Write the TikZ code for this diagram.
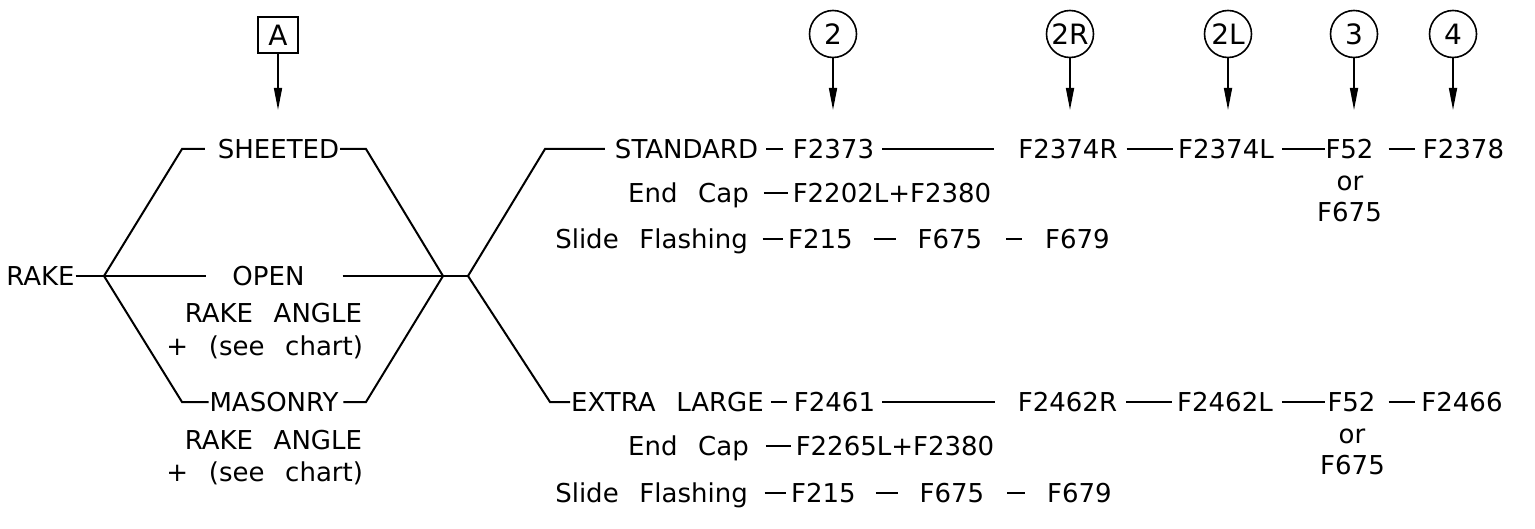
\documentclass[tikz,border=0pt]{standalone}
\usepackage{fontspec}
\setmainfont[WordSpace=2.5]{DejaVu Sans}
\usetikzlibrary{arrows.meta}
\begin{document}
\begin{tikzpicture}[x=0.5pt,y=-0.5pt,
  every path/.style={line width=1pt},
  txt/.style={inner sep=0pt,outer sep=0pt,text height=9.5pt,text depth=0pt,font=\fontsize{13}{15}\selectfont},
  callout/.style={draw,circle,line width=0.8pt,minimum size=23.5pt,inner sep=0pt,font=\fontsize{14}{16}\selectfont},
  boxcall/.style={draw,rectangle,line width=0.8pt,minimum width=20pt,minimum height=18pt,inner sep=0pt,font=\fontsize{14}{16}\selectfont},
  arr/.style={-{Triangle[length=11pt,width=4pt]},line width=0.8pt},
  g/.style 2 args={shorten <=#1pt,shorten >=#2pt}]
\useasboundingbox (0,0) rectangle (1535,529);

% callouts
\node[boxcall] (bA) at (278,35) {A};
\node[callout] (c2) at (833,34) {2};
\node[callout] (c2r) at (1070,34) {2R};
\node[callout] (c2l) at (1228,34) {2L};
\node[callout] (c3) at (1354,34) {3};
\node[callout] (c4) at (1453,34) {4};
\coordinate (tA) at (278,110);
\coordinate (t2) at (833,110);
\coordinate (t2r) at (1070,110);
\coordinate (t2l) at (1228,110);
\coordinate (t3) at (1354,110);
\coordinate (t4) at (1453,110);
\draw[arr] (bA) -- (tA);
\draw[arr] (c2) -- (t2);
\draw[arr] (c2r) -- (t2r);
\draw[arr] (c2l) -- (t2l);
\draw[arr] (c3) -- (t3);
\draw[arr] (c4) -- (t4);

% left hexagon
\coordinate (L) at (104,276);
\coordinate (TL) at (182,149);
\coordinate (BL) at (182,402);
\coordinate (TR) at (366,149);
\coordinate (BR) at (366,402);
\coordinate (R) at (443,276);
\coordinate (R2) at (468,276);
\coordinate (ST) at (545,149);
\coordinate (SB) at (550,402);

\node[txt] (rake) at (40.5,276) {RAKE};
\node[txt] (sheeted) at (278.5,149) {SHEETED};
\node[txt] (open) at (268.5,276) {OPEN};
\node[txt,anchor=east] (ra1) at (362,313) {RAKE ANGLE};
\node[txt,anchor=east] (sc1) at (363,346) {+ (see chart)};
\node[txt] (masonry) at (274,402) {MASONRY};
\node[txt,anchor=east] (ra2) at (362,440) {RAKE ANGLE};
\node[txt,anchor=east] (sc2) at (363,472) {+ (see chart)};

\draw[g={0.5}{0}] (rake.east) -- (L);
\draw[g={0}{6.5}] (L) -- (TL) -- (sheeted.west);
\draw[g={0.5}{0}] (sheeted.east) -- (TR) -- (R);
\draw[g={0}{13}] (L) -- (open.west);
\draw[g={19}{0}] (open.east) -- (R);
\draw[g={0}{0.5}] (L) -- (BL) -- (masonry.west);
\draw[g={2.5}{0}] (masonry.east) -- (BR) -- (R);
\draw (R) -- (R2);

% standard branch
\node[txt] (standard) at (686.5,149) {STANDARD};
\node[txt] (f2373) at (833.5,149) {F2373};
\node[txt] (f2374r) at (1068,149) {F2374R};
\node[txt] (f2374l) at (1226,149) {F2374L};
\node[txt] (f52a) at (1349.5,149) {F52};
\node[txt] (f2378) at (1463.5,149) {F2378};
\node[txt] (ora) at (1350,181) {or};
\node[txt] (f675a) at (1349.5,211.5) {F675};
\node[txt] (endcap1) at (688.5,193) {End Cap};
\node[txt] (f2202) at (892,193) {F2202L+F2380};
\node[txt] (slide1) at (651.5,239) {Slide Flashing};
\node[txt] (f215a) at (820.5,239) {F215};
\node[txt] (f675s1) at (950,239) {F675};
\node[txt] (f679a) at (1077.5,239) {F679};

\draw[g={0}{5}] (R2) -- (ST) -- (standard.west);
\draw[g={4}{5}] (standard.east) -- (f2373.west);
\draw[g={4}{12}] (f2373.east) -- (f2374r.west);
\draw[g={4.5}{2.5}] (f2374r.east) -- (f2374l.west);
\draw[g={4}{0.5}] (f2374l.east) -- (f52a.west);
\draw[g={7.5}{4}] (f52a.east) -- (f2378.west);
\draw[g={7.5}{2.5}] (endcap1.east) -- (f2202.west);
\draw[g={7.5}{2.5}] (slide1.east) -- (f215a.west);
\draw[g={10.5}{11}] (f215a.east) -- (f675s1.west);
\draw[g={12}{11.5}] (f675s1.east) -- (f679a.west);

% extra large branch
\node[txt] (extra) at (667.5,402) {EXTRA LARGE};
\node[txt] (f2461) at (834.5,402) {F2461};
\node[txt] (f2462r) at (1067.5,402) {F2462R};
\node[txt] (f2462l) at (1225,402) {F2462L};
\node[txt] (f52b) at (1351.5,402) {F52};
\node[txt] (f2466) at (1462,402) {F2466};
\node[txt] (orb) at (1352,434) {or};
\node[txt] (f675b) at (1352.5,465) {F675};
\node[txt] (endcap2) at (688.5,446) {End Cap};
\node[txt] (f2265) at (895,446) {F2265L+F2380};
\node[txt] (slide2) at (651.5,492.5) {Slide Flashing};
\node[txt] (f215b) at (823.5,492.5) {F215};
\node[txt] (f675s2) at (952,492.5) {F675};
\node[txt] (f679b) at (1079.5,492.5) {F679};

\draw[g={0}{0.5}] (R2) -- (SB) -- (extra.west);
\draw[g={3.5}{3.5}] (extra.east) -- (f2461.west);
\draw[g={3.5}{11.5}] (f2461.east) -- (f2462r.west);
\draw[g={4.5}{2.5}] (f2462r.east) -- (f2462l.west);
\draw[g={4.5}{1.5}] (f2462l.east) -- (f52b.west);
\draw[g={6.5}{3}] (f52b.east) -- (f2466.west);
\draw[g={8.5}{2.5}] (endcap2.east) -- (f2265.west);
\draw[g={8.5}{2.5}] (slide2.east) -- (f215b.west);
\draw[g={10}{11}] (f215b.east) -- (f675s2.west);
\draw[g={11.5}{11}] (f675s2.east) -- (f679b.west);
\end{tikzpicture}
\end{document}
